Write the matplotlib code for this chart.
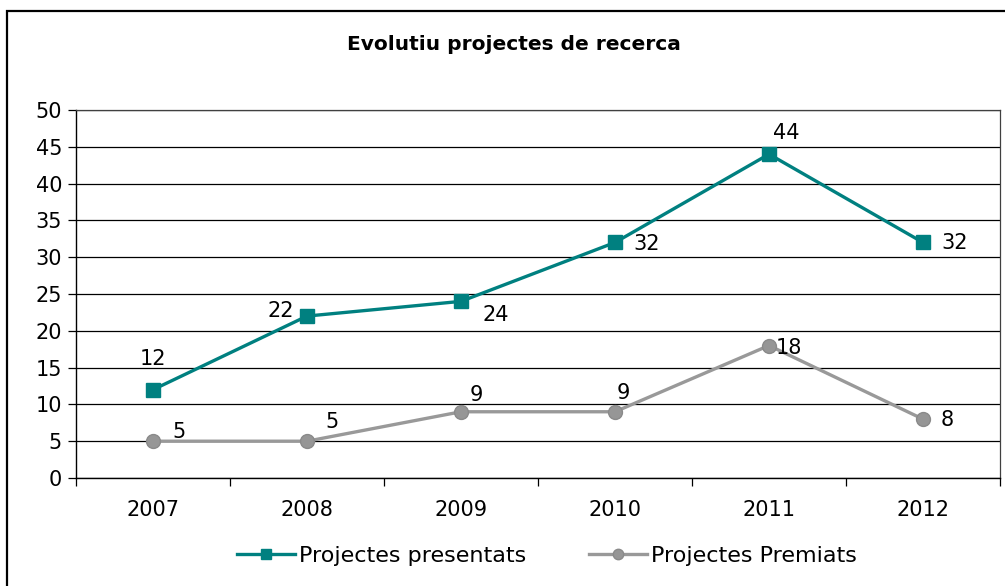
import matplotlib.pyplot as plt
from matplotlib.patches import Rectangle

years = ['2007', '2008', '2009', '2010', '2011', '2012']
presentats = [12, 22, 24, 32, 44, 32]
premiats = [5, 5, 9, 9, 18, 8]

# label offsets in pixels (dx, dy) for each data point
off_presentats = [(0, 31), (-26, 5), (35, -14), (32, -2), (17, 21), (32, -1)]
off_premiats = [(26, 9), (25, 19), (15, 17), (8, 19), (20, -2), (24, -1)]

TEAL = '#008080'
GRAY = '#999999'

plt.rcParams['font.family'] = 'DejaVu Sans'

fig = plt.figure(figsize=(10.05, 5.86), dpi=100)
ax = fig.add_axes([76 / 1005, 108 / 586, 924 / 1005, 368 / 586])

# outer chart frame (runs off the right and bottom edges)
fig.patches.append(Rectangle((7 / 1005, -0.05), 1.1, 1 - 11 / 586 + 0.05,
                             transform=fig.transFigure, fill=False,
                             edgecolor='black', linewidth=1.6, clip_on=False))

x = list(range(len(years)))
ax.plot(x, presentats, color=TEAL, linewidth=2.4, marker='s', markersize=10.5,
        markerfacecolor=TEAL, markeredgecolor=TEAL, label='Projectes presentats',
        zorder=3)
ax.plot(x, premiats, color=GRAY, linewidth=2.4, marker='o', markersize=10,
        markerfacecolor='#969696', markeredgecolor='#8a8a8a', label='Projectes Premiats',
        zorder=3)

for xi, v, (dx, dy) in zip(x, presentats, off_presentats):
    ax.annotate(str(v), (xi, v), xytext=(dx, dy), textcoords='offset pixels',
                ha='center', va='center', fontsize=15)
for xi, v, (dx, dy) in zip(x, premiats, off_premiats):
    ax.annotate(str(v), (xi, v), xytext=(dx, dy), textcoords='offset pixels',
                ha='center', va='center', fontsize=15)

ax.set_xlim(-0.5, len(years) - 0.5)
ax.set_ylim(0, 50)
ax.set_yticks(range(0, 51, 5))
ax.yaxis.grid(True, color='black', linewidth=0.9)
ax.set_axisbelow(True)

ax.set_xticks(x)
ax.set_xticklabels(years)
ax.set_xticks([i - 0.5 for i in range(len(years) + 1)], minor=True)
ax.tick_params(axis='x', which='major', length=0, pad=16, labelsize=15)
ax.tick_params(axis='x', which='minor', length=6, width=0.9, direction='out')
ax.tick_params(axis='y', length=6, width=0.9, pad=4, labelsize=15)

for side in ['left', 'bottom']:
    ax.spines[side].set_linewidth(1.0)
    ax.spines[side].set_color('black')
for side in ['top', 'right']:
    ax.spines[side].set_linewidth(0.9)
    ax.spines[side].set_color('#404040')

fig.text(514 / 1005, 1 - 44 / 586, 'Evolutiu projectes de recerca',
         ha='center', va='center', fontsize=14.5, fontweight='bold')

fig.legend(loc='center', bbox_to_anchor=(547 / 1005, 1 - 556 / 586), ncol=2,
           frameon=False, fontsize=16, handlelength=2.6, handletextpad=0.2,
           columnspacing=2.8, markerscale=0.75)

fig.savefig('out.png', dpi=100)
